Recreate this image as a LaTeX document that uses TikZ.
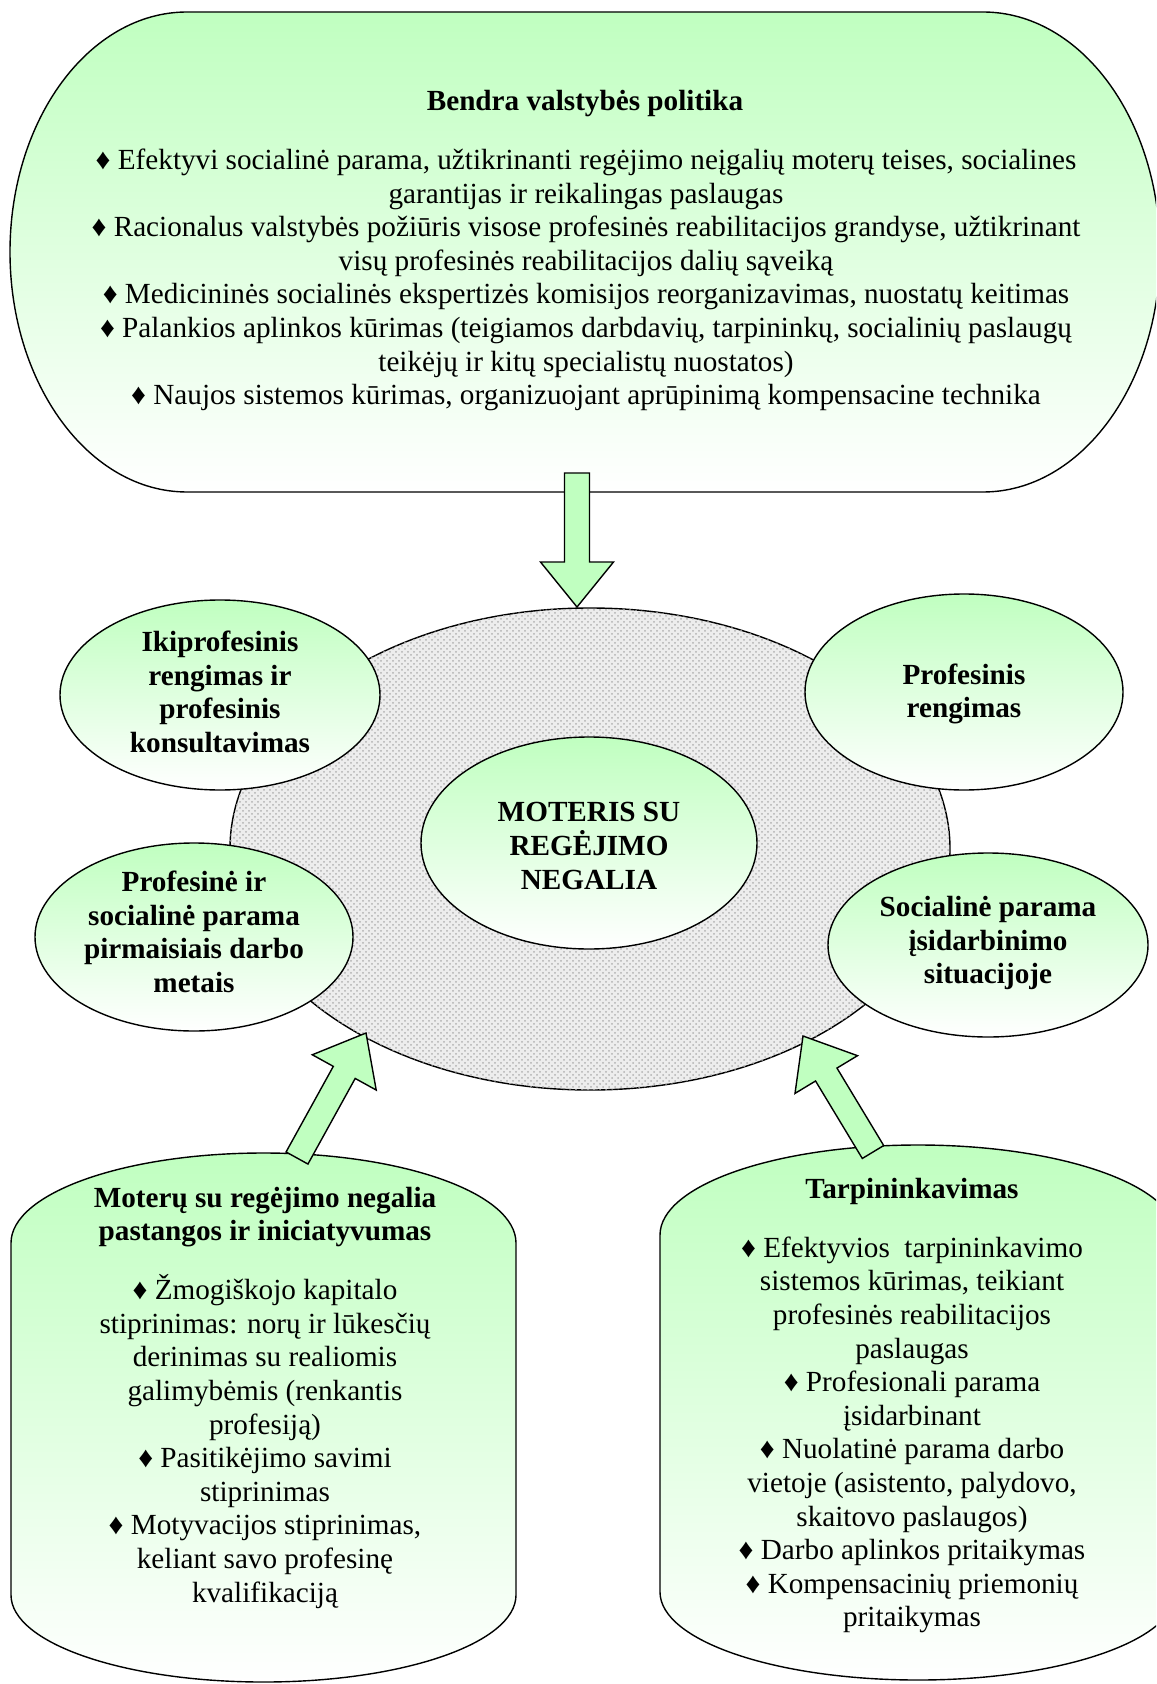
\documentclass[tikz,border=0pt]{standalone}
\usepackage{fontspec}
\setmainfont{Liberation Serif}
\usetikzlibrary{shapes.geometric,patterns,calc}
\definecolor{mygreen}{RGB}{192,255,192}
\tikzset{
  greenshade/.style={top color=mygreen, bottom color=white},
  outline/.style={draw=black, line width=0.7pt},
  oval/.style={ellipse, outline, greenshade, inner sep=0pt},
  bodytext/.style={align=center, inner sep=0pt, font=\fontsize{14.6pt}{16.8pt}\selectfont},
  titletext/.style={align=center, inner sep=0pt, font=\bfseries\fontsize{14.6pt}{16.8pt}\selectfont},
  blockarrow/.style={outline, fill=mygreen, line join=miter},
}
\newcommand{\blockarr}[3]{%
  \coordinate (#3h) at ($(#2)!22.5pt!(#1)$);
  \draw[blockarrow] ($(#1)!6.25pt!90:(#2)$) -- ($(#3h)!6.25pt!90:(#2)$) -- ($(#3h)!18.25pt!90:(#2)$) -- (#2)
    -- ($(#3h)!18.25pt!-90:(#2)$) -- ($(#3h)!6.25pt!-90:(#2)$) -- ($(#1)!6.25pt!-90:(#2)$) -- cycle;
}
\begin{document}
\begin{tikzpicture}[x=0.5pt,y=-0.5pt]
\path[use as bounding box] (0,0) rectangle (1156,1684);
\clip (0,0) rectangle (1156,1684);

% central dotted ellipse
\node[ellipse, outline, fill=black!7, postaction={pattern=crosshatch dots, pattern color=black!30},
  minimum width=360pt, minimum height=241pt, inner sep=0pt] (core) at (590,849) {};

% small ellipses
\node[oval, minimum width=160pt, minimum height=95pt] (e1) at (220,695) {};
\node[titletext] (e1text) at (220,692) {Ikiprofesinis\\rengimas ir\\profesinis\\konsultavimas};
\node[oval, minimum width=159pt, minimum height=98pt] (e2) at (964,692) {};
\node[titletext] (e2text) at (964,694) {Profesinis\\rengimas};
\node[oval, minimum width=159pt, minimum height=94pt] (e3) at (194,937) {};
\node[titletext] (e3text) at (194,932) {Profesinė ir\\socialinė parama\\pirmaisiais darbo\\metais};
\node[oval, minimum width=160pt, minimum height=92pt] (e4) at (988,945) {};
\node[titletext] (e4text) at (988,943) {Socialinė parama\\įsidarbinimo\\situacijoje};
\node[oval, minimum width=168pt, minimum height=106pt] (center) at (589,843) {};
\node[titletext] (centertext) at (589,846) {MOTERIS SU\\REGĖJIMO\\NEGALIA};

% top shape
\path[outline, greenshade] (187,12) -- (983,12)
  arc[start angle=-90, end angle=90, x radius=177, y radius=240]
  -- (187,492) arc[start angle=90, end angle=270, x radius=177, y radius=240] -- cycle;
\node[titletext] (toptitle) at (585,104) {Bendra valstybės politika};
\node[bodytext] (topbody) at (586,280) {♦ Efektyvi socialinė parama, užtikrinanti regėjimo neįgalių moterų teises, socialines\\
garantijas ir reikalingas paslaugas\\
♦ Racionalus valstybės požiūris visose profesinės reabilitacijos grandyse, užtikrinant\\
visų profesinės reabilitacijos dalių sąveiką\\
♦ Medicininės socialinės ekspertizės komisijos reorganizavimas, nuostatų keitimas\\
♦ Palankios aplinkos kūrimas (teigiamos darbdavių, tarpininkų, socialinių paslaugų\\
teikėjų ir kitų specialistų nuostatos)\\
♦ Naujos sistemos kūrimas, organizuojant aprūpinimą kompensacine technika};

% bottom left shape
\path[outline, greenshade] (11,1243)
  arc[start angle=180, end angle=360, x radius=252.5, y radius=90]
  -- (516,1595) arc[start angle=0, end angle=180, x radius=252.5, y radius=87] -- cycle;
\node[titletext] (lefttitle) at (265,1217) {Moterų su regėjimo negalia\\pastangos ir iniciatyvumas};
\node[bodytext] (leftbody) at (265,1441.5) {♦ Žmogiškojo kapitalo\\
stiprinimas: norų ir lūkesčių\\
derinimas su realiomis\\
galimybėmis (renkantis\\
profesiją)\\
♦ Pasitikėjimo savimi\\
stiprinimas\\
♦ Motyvacijos stiprinimas,\\
keliant savo profesinę\\
kvalifikaciją};

% bottom right shape
\path[outline, greenshade] (660,1235)
  arc[start angle=180, end angle=360, x radius=258, y radius=90]
  -- (1176,1592) arc[start angle=0, end angle=180, x radius=258, y radius=88] -- cycle;
\node[titletext] (righttitle) at (912,1191) {Tarpininkavimas};
\node[bodytext] (rightbody) at (912,1435) {♦ Efektyvios\ \ tarpininkavimo\\
sistemos kūrimas, teikiant\\
profesinės reabilitacijos\\
paslaugas\\
♦ Profesionali parama\\
įsidarbinant\\
♦ Nuolatinė parama darbo\\
vietoje (asistento, palydovo,\\
skaitovo paslaugos)\\
♦ Darbo aplinkos pritaikymas\\
♦ Kompensacinių priemonių\\
pritaikymas};

% arrows
\coordinate (aTopBase) at (577,473);
\coordinate (aTopTip) at (577,607);
\coordinate (aLeftBase) at (297,1158);
\coordinate (aLeftTip) at (366,1033);
\coordinate (aRightBase) at (873,1152);
\coordinate (aRightTip) at (803,1036);
\blockarr{aTopBase}{aTopTip}{at}
\blockarr{aLeftBase}{aLeftTip}{al}
\blockarr{aRightBase}{aRightTip}{ar}
\end{tikzpicture}
\end{document}
